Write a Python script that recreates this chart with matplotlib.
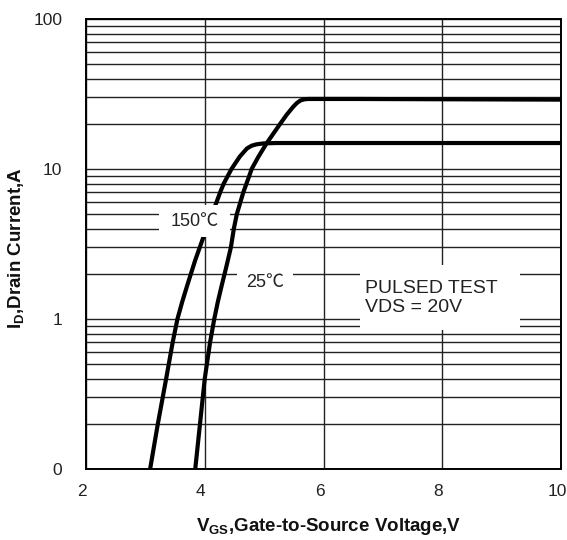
import matplotlib
matplotlib.use("Agg")
import matplotlib.pyplot as plt
from matplotlib.patches import Rectangle
from matplotlib.ticker import LogLocator, NullFormatter
from matplotlib.transforms import ScaledTranslation

plt.rcParams["font.family"] = ["Liberation Sans", "Noto Sans CJK SC", "DejaVu Sans"]
plt.rcParams["mathtext.fontset"] = "custom"
plt.rcParams["mathtext.rm"] = "Liberation Sans"
plt.rcParams["mathtext.bf"] = "Liberation Sans:bold"

# transfer curves (V_GS in V, I_D in A)
vgs_150 = [3.08, 3.21, 3.35, 3.46, 3.54, 3.62, 3.71, 3.84, 3.97, 4.07,
           4.17, 4.26, 4.32, 4.45, 4.59, 4.71, 4.79, 4.87, 4.98, 5.2, 10.0]
id_150 = [0.1, 0.2, 0.4, 0.7, 1.0, 1.3, 1.7, 2.47, 3.45, 4.5,
          5.6, 7.0, 8.0, 10.0, 12.1, 13.7, 14.3, 14.6, 14.8, 14.9, 14.9]

vgs_25 = [3.84, 3.92, 4.00, 4.09, 4.16, 4.22, 4.29, 4.36, 4.44, 4.49,
          4.54, 4.65, 4.75, 4.79, 4.90, 5.04, 5.27, 5.38, 5.49, 5.55,
          5.61, 5.67, 5.74, 6.5, 10.0]
id_25 = [0.1, 0.2, 0.4, 0.7, 1.0, 1.3, 1.7, 2.2, 3.0, 4.0,
         5.0, 7.0, 9.0, 10.0, 12.0, 14.8, 20.0, 23.0, 26.0, 27.5,
         28.6, 29.1, 29.3, 29.3, 29.0]

x_ticks = [2, 4, 6, 8, 10]
x_tick_labels = ["2", "4", "6", "8", "10"]
y_ticks = [0.1, 1, 10, 100]
y_tick_labels = ["0", "1", "10", "100"]

fig = plt.figure(figsize=(5.67, 5.4), dpi=100)
ax = fig.add_axes([86 / 567, 71 / 540, 475 / 567, 450 / 540])

ax.set_yscale("log")
ax.set_xlim(2, 10)
ax.set_ylim(0.1, 100)

for vgs, cur in [(vgs_150, id_150), (vgs_25, id_25)]:
    ax.plot(vgs, cur, color="black", linewidth=3.0, zorder=3,
            solid_capstyle="butt", solid_joinstyle="round")

ax.set_xticks(x_ticks)
ax.set_xticklabels(x_tick_labels)
ax.set_yticks(y_ticks)
ax.set_yticklabels(y_tick_labels)
ax.yaxis.set_minor_locator(LogLocator(base=10, subs=range(2, 10)))
ax.yaxis.set_minor_formatter(NullFormatter())
ax.tick_params(axis="both", which="both", length=0, labelsize=12.5,
               labelcolor="#222222")
ax.tick_params(axis="y", pad=17)
ax.tick_params(axis="x", pad=11)

# x tick labels sit a few pixels left of their grid line in the original
shift = ScaledTranslation(-4 / 100, 0, fig.dpi_scale_trans)
for lab in ax.get_xticklabels():
    lab.set_transform(lab.get_transform() + shift)

ax.grid(axis="y", which="both", color="#222222", linewidth=1.0, zorder=1)
ax.grid(axis="x", which="major", color="#222222", linewidth=1.0, zorder=1)
ax.set_axisbelow(True)
for sp in ax.spines.values():
    sp.set_linewidth(1.4)
    sp.set_color("black")

# white label boxes that blank out grid and curves (axes fraction)
for x0, x1, y0, y1 in [(0.154, 0.303, 0.516, 0.587),
                       (0.318, 0.436, 0.381, 0.452),
                       (0.577, 0.914, 0.309, 0.453)]:
    ax.add_patch(Rectangle((x0, y0), x1 - x0, y1 - y0, transform=ax.transAxes,
                           facecolor="white", edgecolor="none", zorder=4))

ax.text(3.83, 4.45, "150\u2103", fontsize=13, ha="center", va="center",
        color="#222222", zorder=5)
ax.text(5.01, 1.76, "25\u2103", fontsize=13, ha="center", va="center",
        color="#222222", zorder=5)
ax.text(6.70, 1.39, "PULSED TEST\nVDS = 20V", fontsize=14, ha="left",
        va="center", linespacing=1.15, color="#222222", zorder=5)

ax.set_xlabel(r"$\mathbf{V}_{\mathbf{GS}}$,Gate-to-Source Voltage,V",
              fontsize=13.5, fontweight="bold", color="#111111")
ax.set_ylabel(r"$\mathbf{I}_{\mathbf{D}}$,Drain Current,A",
              fontsize=13.5, fontweight="bold", color="#111111")
ax.xaxis.set_label_coords(0.51, -0.105)
ax.yaxis.set_label_coords(-0.125, 0.49)

fig.savefig("out.png", dpi=100)
